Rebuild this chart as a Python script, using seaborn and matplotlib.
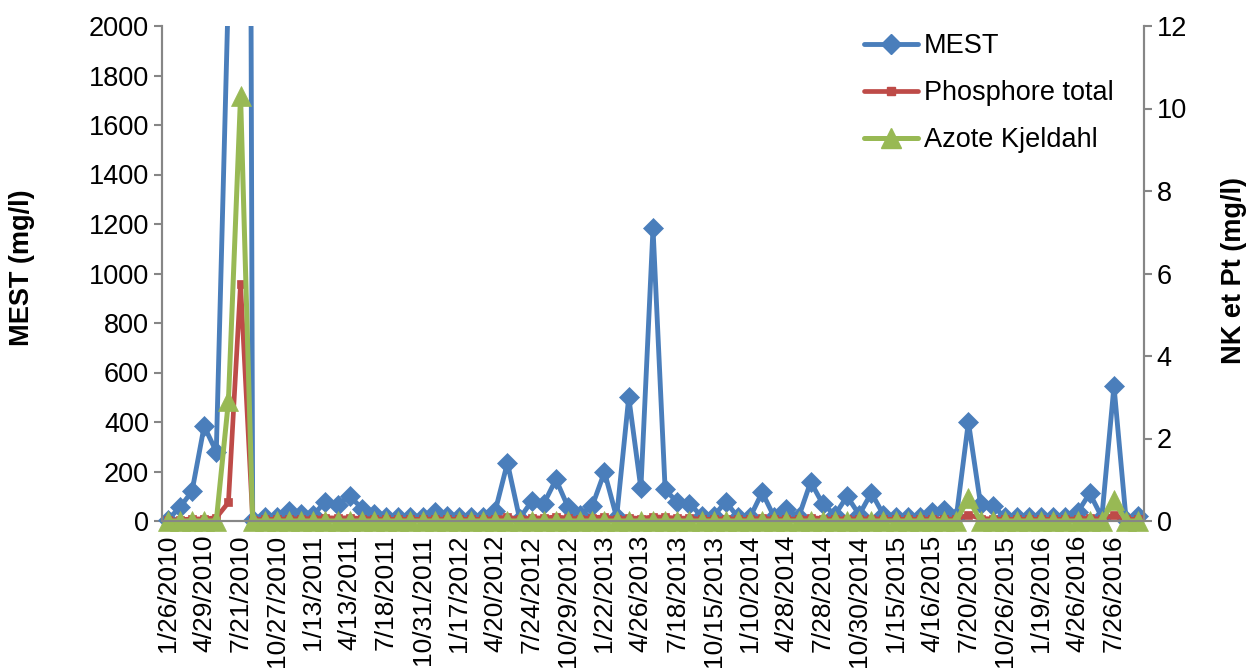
import numpy as np
import matplotlib
matplotlib.use("Agg")
import matplotlib.pyplot as plt
from matplotlib.patches import Rectangle
from matplotlib.lines import Line2D
import seaborn as sns

# Sampling dates shown on the category axis (one label every third sample)
date_labels = ["1/26/2010", "4/29/2010", "7/21/2010", "10/27/2010", "1/13/2011",
               "4/13/2011", "7/18/2011", "10/31/2011", "1/17/2012", "4/20/2012",
               "7/24/2012", "10/29/2012", "1/22/2013", "4/26/2013", "7/18/2013",
               "10/15/2013", "1/10/2014", "4/28/2014", "7/28/2014", "10/30/2014",
               "1/15/2015", "4/16/2015", "7/20/2015", "10/26/2015", "1/19/2016",
               "4/26/2016", "7/26/2016"]
label_step = 3

# Suspended solids (mg/l), left axis
mest = [5, 55, 120, 383, 280, 2150, 15000, 5, 15, 15,
        40, 30, 25, 78, 65, 102, 50, 30, 15, 15,
        15, 15, 35, 20, 15, 15, 15, 42, 235, 10,
        80, 70, 168, 56, 25, 62, 198, 15, 500, 132,
        1182, 128, 75, 70, 20, 20, 78, 15, 15, 116,
        15, 48, 15, 158, 68, 25, 100, 25, 114, 25,
        15, 15, 15, 35, 45, 15, 400, 68, 62, 15,
        15, 15, 15, 15, 15, 35, 112, 15, 545, 5, 20]

# Total phosphorus (mg/l), right axis
phosphore = [0.02, 0.03, 0.05, 0.05, 0.08, 0.45, 5.75, 0.03, 0.04, 0.04,
             0.05, 0.05, 0.06, 0.08, 0.07, 0.08, 0.06, 0.05, 0.04, 0.04,
             0.04, 0.04, 0.05, 0.04, 0.04, 0.04, 0.04, 0.06, 0.10, 0.04,
             0.08, 0.07, 0.10, 0.07, 0.05, 0.08, 0.10, 0.04, 0.08, 0.06,
             0.10, 0.09, 0.07, 0.07, 0.04, 0.04, 0.06, 0.04, 0.04, 0.07,
             0.04, 0.05, 0.04, 0.08, 0.06, 0.04, 0.06, 0.04, 0.06, 0.04,
             0.04, 0.04, 0.04, 0.05, 0.05, 0.04, 0.15, 0.06, 0.05, 0.04,
             0.04, 0.04, 0.04, 0.04, 0.04, 0.05, 0.07, 0.04, 0.15, 0.04, 0.04]

# Kjeldahl nitrogen (mg/l), right axis
azote = [0, 0, 0, 0, 0, 2.9, 10.3, 0, 0, 0,
         0, 0, 0, 0, 0, 0, 0, 0, 0, 0,
         0, 0, 0, 0, 0, 0, 0, 0, 0, 0,
         0, 0, 0, 0, 0, 0, 0, 0, 0, 0,
         0, 0, 0, 0, 0, 0, 0, 0, 0, 0,
         0, 0, 0, 0, 0, 0, 0, 0, 0, 0,
         0, 0, 0, 0, 0, 0, 0.55, 0, 0, 0,
         0, 0, 0, 0, 0, 0, 0, 0, 0.5, 0, 0]

series_names = ["MEST", "Phosphore total", "Azote Kjeldahl"]
colors = ["#4A7EBB", "#BE4B48", "#98B954"]
axis_gray = "#868686"

sns.set_style("white")
plt.rcParams["font.family"] = ["Liberation Sans", "DejaVu Sans"]
plt.rcParams["text.color"] = "black"

W, H = 1248, 668
fig = plt.figure(figsize=(W / 100, H / 100), dpi=100)
ax = fig.add_axes([161.7 / W, 1 - 521 / H, (1144.3 - 161.7) / W, (521 - 26) / H])
ax2 = ax.twinx()

x = np.arange(len(mest))

line_styles = [
    dict(linewidth=3.5, marker="D", markersize=10.5),
    dict(linewidth=3.4, marker="s", markersize=5.5),
    dict(linewidth=3.6, marker="^", markersize=15),
]

# MEST on primary axis
sns.lineplot(x=x, y=mest, ax=ax, color=colors[0], markeredgecolor=colors[0],
             markeredgewidth=0.5, sort=False, estimator=None, **line_styles[0])
mest_line = ax.lines[-1]
# clip only at the top of the plot area so low markers stay whole
clip = Rectangle((-0.05, -0.1), 1.1, 1.1, transform=ax.transAxes)
mest_line.set_clip_path(clip)

# Phosphorus and nitrogen on secondary axis
sns.lineplot(x=x, y=phosphore, ax=ax2, color=colors[1], markeredgecolor=colors[1],
             markeredgewidth=0.5, sort=False, estimator=None, **line_styles[1])
sns.lineplot(x=x, y=azote, ax=ax2, color=colors[2], markeredgecolor=colors[2],
             markeredgewidth=0.5, sort=False, estimator=None, **line_styles[2])
for ln in ax2.lines:
    ln.set_clip_on(False)

ax.set_xlim(-0.5, len(mest) - 0.5)
ax.set_ylim(0, 2000)
ax2.set_ylim(0, 12)
ax.set_yticks(np.arange(0, 2001, 200))
ax2.set_yticks(np.arange(0, 13, 2))

tick_pos = np.arange(0, len(mest), label_step)[:len(date_labels)]
ax.set_xticks(tick_pos)
ax.set_xticklabels(date_labels, rotation=90, ha="center", va="top")
ax.set_xticks(np.arange(-0.5, len(mest), label_step), minor=True)

fs = 19.5
ax.tick_params(axis="x", which="major", length=0, pad=10, labelsize=19, labelcolor="black")
ax.tick_params(axis="x", which="minor", length=6, width=1.5, color=axis_gray)
ax.tick_params(axis="y", length=6, width=1.5, color=axis_gray, labelsize=fs, pad=3,
               labelcolor="black")
ax2.tick_params(axis="y", length=6, width=1.5, color=axis_gray, labelsize=fs, pad=3,
                labelcolor="black")

for a in (ax, ax2):
    a.spines["top"].set_visible(False)
    for s in ("left", "right", "bottom"):
        a.spines[s].set_color(axis_gray)
        a.spines[s].set_linewidth(1.5)
    a.grid(False)
    a.set_xlabel("")
    a.set_ylabel("")

fig.text(22 / W, 1 - 268 / H, "MEST (mg/l)", rotation=90, ha="center", va="center",
         fontsize=fs, fontweight="bold")
fig.text(1234 / W, 1 - 270 / H, "NK et Pt (mg/l)", rotation=90, ha="center", va="center",
         fontsize=fs, fontweight="bold")

handles = [Line2D([], [], color=c, markeredgecolor=c, **st)
           for c, st in zip(colors, line_styles)]
ax2.legend(handles, series_names, loc="upper left",
           bbox_to_anchor=(864 / W, 1 - 33 / H), bbox_transform=fig.transFigure,
           frameon=False, fontsize=fs, handlelength=2.0, handletextpad=0.2,
           labelspacing=0.78, borderpad=0, borderaxespad=0, numpoints=1)

fig.savefig("out.png", dpi=100)
